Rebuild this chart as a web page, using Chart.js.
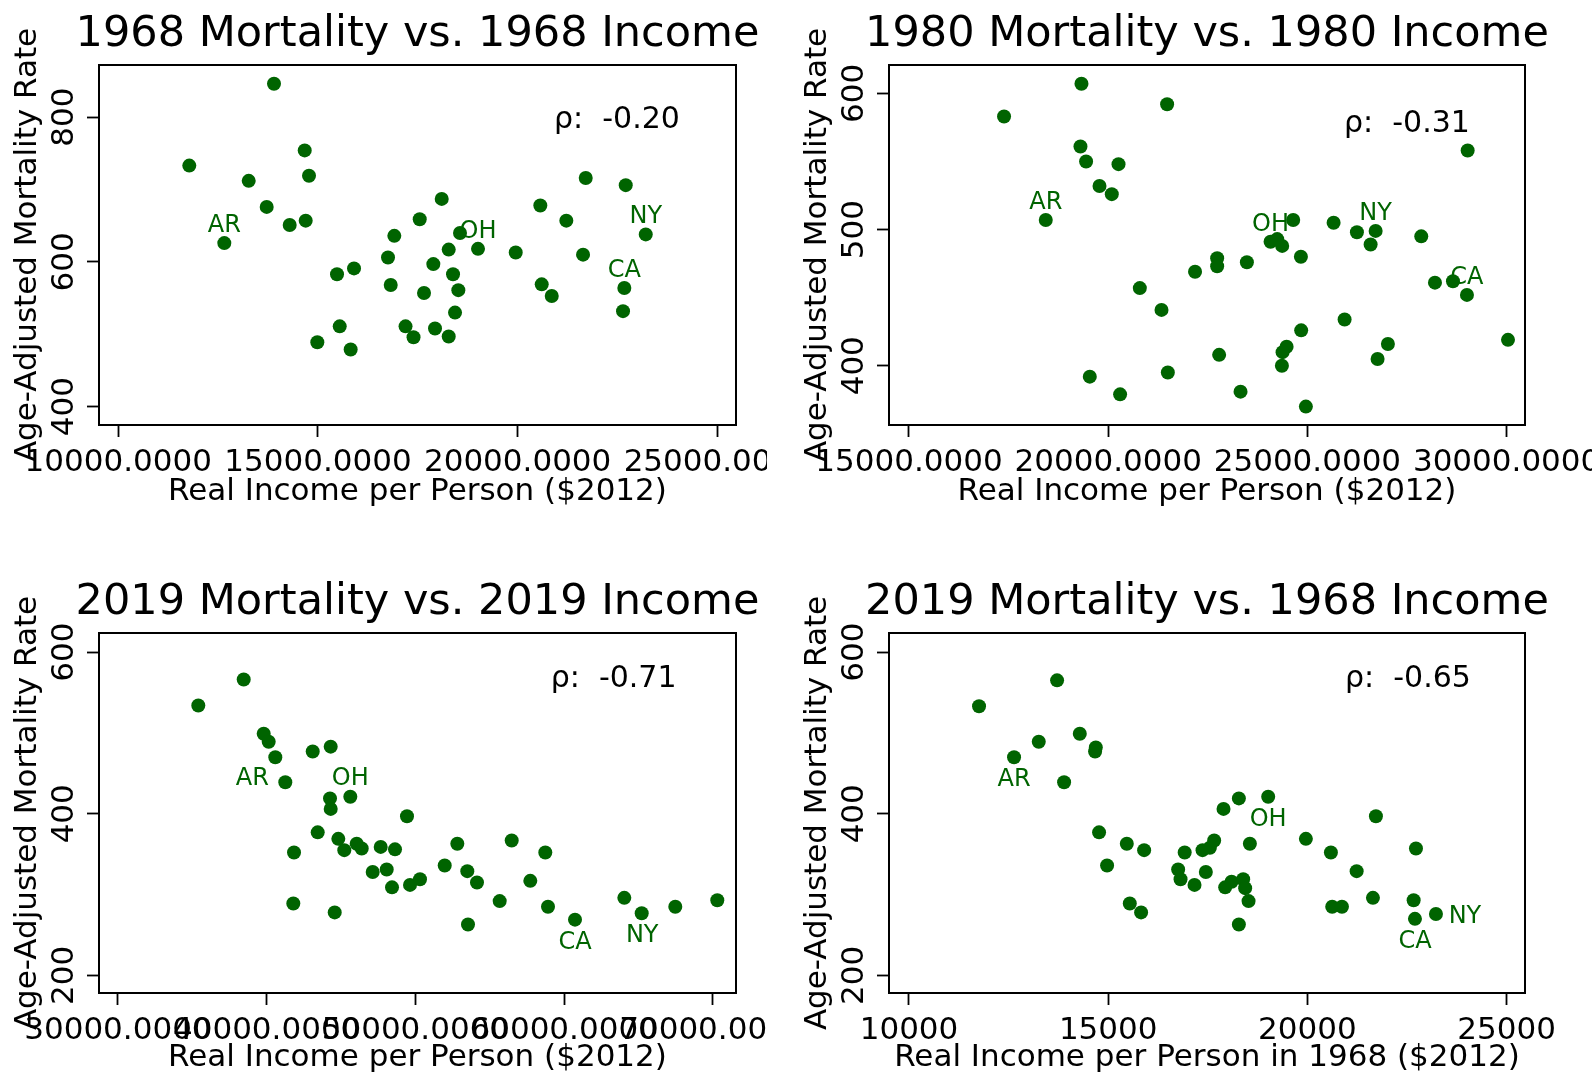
<!DOCTYPE html>
<html><head><meta charset="utf-8">
<script src="https://cdn.jsdelivr.net/npm/chart.js@4.4.1/dist/chart.umd.min.js"></script>
<style>
html,body{margin:0;padding:0;background:#fff;}
body{width:1592px;height:1074px;position:relative;overflow:hidden;}
canvas{position:absolute;}
</style></head><body>
<canvas id="c1"></canvas><canvas id="c2"></canvas><canvas id="c3"></canvas><canvas id="c4"></canvas>
<script>
// ---------- DATA ----------
// Panel 1: 1968 mortality vs 1968 income
const p1Income = [13899,11778,14668,14776,13266,13716,14292,14693,12655,16912,16754,15477,15903,16822,15545,14984,15819,17193,17393,18099,17548,18557,18274,19008,17889,18382,18515,17656,18432,17931,18274,19952,20568,21219,21705,22707,23208,21638,22672,22639,20603,20854];
const p1Mortality = [846,733,754,719,712,676,651,657,626,636,606,583,591,568,511,489,479,511,496,687,659,640,617,618,597,583,561,557,530,508,497,613,678,657,716,706,638,610,564,532,569,553];
const p1StateIdx = {AR: 8, OH: 23, NY: 36, CA: 38};
const p1XTicks = [10000, 15000, 20000, 25000];
const p1YTicks = [400, 600, 800];
const p1Rho = '-0.20';

// Panel 2: 1980 mortality vs 1980 income
const p2Income = [19329,17386,21479,19304,19445,20259,19782,20090,18433,22180,20794,21338,19538,20299,21497,22735,22735,23481,24076,24242,24367,24644,24837,25658,26243,26713,26587,27858,29023,28202,28654,29005,30035,25934,24844,27021,26762,24478,24377,24360,22785,23322,24962];
const p2Mortality = [607,583,592,561,550,548,532,526,507,469,457,441,392,379,395,479,473,476,491,493,488,507,480,505,498,499,489,495,558,461,462,452,419,434,426,416,405,414,410,400,408,381,370];
const p2StateIdx = {AR: 8, OH: 18, NY: 25, CA: 31};
const p2XTicks = [15000, 20000, 25000, 30000];
const p2YTicks = [400, 500, 600];
const p2Rho = '-0.31';

// Panel 3: 2019 mortality vs 2019 income
const p3Income = [38457,35405,39802,40138,40582,41254,43096,44306,45624,44259,44306,49435,43432,41839,44817,45220,46054,46390,47667,48629,47129,48071,48427,49637,41792,44575,50309,52817,51970,53489,54141,53536,55667,56474,57724,58733,58914,60729,64044,65213,67472,70296];
const p3Mortality = [566,534,499,489,470,439,477,483,421,419,406,397,377,352,369,355,363,357,359,356,328,331,309,312,289,278,319,363,336,329,315,263,292,367,317,352,285,269,296,277,285,293];
const p3StateIdx = {AR: 4, OH: 8, CA: 37, NY: 39};
const p3XTicks = [30000, 40000, 50000, 60000, 70000];
const p3YTicks = [200, 400, 600];
const p3Rho = '-0.71';

// Panel 4: 2019 mortality vs 1968 income
const p4Income = [13717,11758,12637,13257,14287,14689,14671,13893,14771,14972,15467,15902,15542,15826,16920,16756,16816,17167,17368,17552,17660,17451,17895,18280,19016,18556,17936,18097,18388,18438,18523,18280,19962,20590,21236,21720,20623,20867,21645,22725,22667,22700,23227];
const p4Mortality = [565,533,470,489,499,482,477,439,377,336,363,355,289,278,352,331,319,312,355,358,367,328,406,419,421,363,309,316,319,308,292,263,369,352,329,397,285,285,296,357,293,270,276];
const p4StateIdx = {AR: 2, OH: 24, CA: 41, NY: 42};
const p4XTicks = [10000, 15000, 20000, 25000];
const p4YTicks = [200, 400, 600];
const p4Rho = '-0.65';

// ---------- STYLE / LAYOUT ----------
const GREEN = '#006400';
const FONT = "'DejaVu Sans', sans-serif";
Chart.defaults.font.family = FONT;
Chart.defaults.color = '#000';

const decor = {
  id: 'decor',
  beforeDatasetsDraw(chart, args, o) {
    const {ctx, chartArea: a} = chart;
    ctx.save();
    ctx.fillStyle = '#000';
    ctx.textBaseline = 'alphabetic';
    // title
    ctx.font = `43px ${FONT}`;
    ctx.textAlign = 'center';
    ctx.fillText(o.title, (a.left + a.right) / 2, a.top - 19.5);
    // rho
    ctx.font = `30px ${FONT}`;
    ctx.textAlign = 'left';
    ctx.fillText('\u03C1:  ' + o.rho, a.left + o.rhoDx, a.top + o.rhoDy);
    // state labels
    const meta = chart.getDatasetMeta(0);
    ctx.font = `24px ${FONT}`;
    ctx.fillStyle = GREEN;
    ctx.textAlign = 'center';
    for (const [st, idx] of Object.entries(o.states)) {
      const el = meta.data[idx];
      const off = o.offsets[st];
      ctx.fillText(st, el.x + off[0], el.y + off[1]);
    }
    ctx.restore();
  },
  afterDraw(chart, args, o) {
    const {ctx, chartArea: a, scales} = chart;
    ctx.save();
    ctx.strokeStyle = '#000';
    ctx.lineWidth = 2;
    ctx.strokeRect(a.left, a.top, a.right - a.left, a.bottom - a.top);
    // rotated y tick labels
    ctx.fillStyle = '#000';
    ctx.font = `31px ${FONT}`;
    ctx.textAlign = 'center';
    ctx.textBaseline = 'alphabetic';
    for (const t of scales.y.ticks) {
      const py = scales.y.getPixelForValue(t.value);
      ctx.save();
      ctx.translate(a.left - 26, py);
      ctx.rotate(-Math.PI / 2);
      ctx.fillText(String(t.value), 0, 0);
      ctx.restore();
    }
    ctx.restore();
  }
};

function makePanel(id, pos, income, mort, cfg) {
  const cv = document.getElementById(id);
  cv.width = pos.w; cv.height = pos.h;
  cv.style.left = pos.x + 'px'; cv.style.top = pos.y + 'px';
  cv.style.width = pos.w + 'px'; cv.style.height = pos.h + 'px';
  const data = income.map((v, i) => ({x: v, y: mort[i]}));
  const gridCfg = {drawOnChartArea: false, drawTicks: true, tickLength: 12, tickWidth: 1.8, tickColor: '#000', color: '#000'};
  return new Chart(cv, {
    type: 'scatter',
    data: {datasets: [{data, backgroundColor: GREEN, borderColor: GREEN, pointRadius: 7, pointBorderWidth: 0, pointHoverRadius: 7}]},
    options: {
      responsive: false, animation: false, devicePixelRatio: 1,
      layout: {autoPadding: false, padding: {left: 0, top: 65, right: pos.w - cfg.boxRight, bottom: pos.h - 425 - cfg.xAxisH}},
      plugins: {legend: {display: false}, tooltip: {enabled: false},
        decor: {title: cfg.title, rho: cfg.rho, rhoDx: cfg.rhoDx, rhoDy: cfg.rhoDy, states: cfg.states, offsets: cfg.offsets}},
      scales: {
        x: {type: 'linear', position: 'bottom', min: cfg.xMin, max: cfg.xMax,
          afterBuildTicks: s => { s.ticks = cfg.xTicks.map(v => ({value: v})); },
          afterFit: s => { s.height = cfg.xAxisH; s.paddingLeft = 0; s.paddingRight = 0; },
          ticks: {autoSkip: false, maxRotation: 0, minRotation: 0, padding: 7, color: '#000', font: {size: 31},
            callback: v => cfg.xFmt(v)},
          grid: gridCfg, border: {display: false},
          title: {display: true, text: cfg.xTitle, color: '#000', font: {size: 31}, padding: {top: 0, bottom: cfg.xTitlePad}}},
        y: {type: 'linear', position: 'left', min: cfg.yMin, max: cfg.yMax,
          afterBuildTicks: s => { s.ticks = cfg.yTicks.map(v => ({value: v})); },
          afterFit: s => { s.width = 99; s.paddingTop = 0; s.paddingBottom = 0; },
          ticks: {color: 'rgba(0,0,0,0)', font: {size: 31}},
          grid: gridCfg, border: {display: false},
          title: {display: true, text: 'Age-Adjusted Mortality Rate', color: '#000', font: {size: 31}, padding: {top: 9, bottom: 0}}}
      }
    },
    plugins: [decor]
  });
}

const f4 = v => Number(v).toFixed(4);
const f0 = v => String(Math.round(v));
const offTop = {AR: [0, -11], OH: [0, -11], NY: [0, -11], CA: [0, -11]};

makePanel('c1', {x: 0, y: 0, w: 767, h: 568}, p1Income, p1Mortality, {
  title: '1968 Mortality vs. 1968 Income', rho: p1Rho, rhoDx: 455, rhoDy: 63.3,
  xMin: 9517, xMax: 25468, yMin: 374.7, yMax: 872, xTicks: p1XTicks, yTicks: p1YTicks, xFmt: f4,
  xTitle: 'Real Income per Person ($2012)', boxRight: 736, xAxisH: 86, xTitlePad: 0,
  states: p1StateIdx, offsets: offTop});

makePanel('c2', {x: 790, y: 0, w: 802, h: 568}, p2Income, p2Mortality, {
  title: '1980 Mortality vs. 1980 Income', rho: p2Rho, rhoDx: 455, rhoDy: 67.3,
  xMin: 14498, xMax: 30462, yMin: 356.5, yMax: 620.8, xTicks: p2XTicks, yTicks: p2YTicks, xFmt: f4,
  xTitle: 'Real Income per Person ($2012)', boxRight: 735, xAxisH: 86, xTitlePad: 0,
  states: p2StateIdx, offsets: offTop});

makePanel('c3', {x: 0, y: 568, w: 767, h: 506}, p3Income, p3Mortality, {
  title: '2019 Mortality vs. 2019 Income', rho: p3Rho, rhoDx: 451.7, rhoDy: 54.4,
  xMin: 28729, xMax: 71553, yMin: 178.3, yMax: 623.6, xTicks: p3XTicks, yTicks: p3YTicks, xFmt: f4,
  xTitle: 'Real Income per Person ($2012)', boxRight: 736, xAxisH: 81, xTitlePad: -3,
  states: p3StateIdx, offsets: {AR: [-23, 28], OH: [0, -12], CA: [0, 29], NY: [0.5, 29]}});

makePanel('c4', {x: 790, y: 568, w: 802, h: 506}, p4Income, p4Mortality, {
  title: '2019 Mortality vs. 1968 Income', rho: p4Rho, rhoDx: 456, rhoDy: 54.4,
  xMin: 9498, xMax: 25462, yMin: 178.3, yMax: 623.6, xTicks: p4XTicks, yTicks: p4YTicks, xFmt: f0,
  xTitle: 'Real Income per Person in 1968 ($2012)', boxRight: 735, xAxisH: 81, xTitlePad: -3,
  states: p4StateIdx, offsets: {AR: [0, 29], OH: [0, 29], CA: [0, 29.5], NY: [29, 8.5]}});
</script>
</body></html>
